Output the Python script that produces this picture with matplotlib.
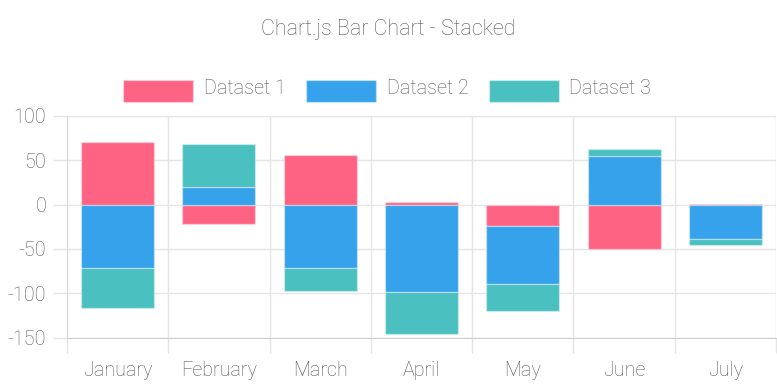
import numpy as np
import matplotlib
matplotlib.use("Agg")
import matplotlib.pyplot as plt
from matplotlib.patches import Rectangle

# Chart data
months   = ["January", "February", "March", "April", "May", "June", "July"]
dataset1 = [70, -22, 56, 3, -24, -50, 1]
dataset2 = [-72, 20, -72, -99, -66, 55, -39]
dataset3 = [-45, 48, -25, -47, -30, 8, -7]
labels   = ["Dataset 1", "Dataset 2", "Dataset 3"]
colors   = ["#ff6384", "#36a2eb", "#4bc0c0"]
y_ticks  = [-150, -100, -50, 0, 50, 100]

plt.rcParams["font.family"] = ["Roboto", "Liberation Sans", "DejaVu Sans"]
plt.rcParams["font.weight"] = "light"
plt.rcParams["axes.unicode_minus"] = False
TXT = "#595959"
GRID = "#e5e5e5"
FS = 14.2

W, H = 777, 388
fig = plt.figure(figsize=(W / 100, H / 100), dpi=100)
ax = fig.add_axes([67 / W, (H - 337.7) / H, (776 - 67) / W, (337.7 - 115.7) / H])

x = np.arange(len(months))
pos_base = np.zeros(len(months))
neg_base = np.zeros(len(months))
for vals, col, lab in zip([dataset1, dataset2, dataset3], colors, labels):
    vals = np.array(vals, dtype=float)
    bottoms = np.where(vals >= 0, pos_base, neg_base)
    ax.bar(x, vals, bottom=bottoms, width=0.72, color=col,
           edgecolor=(1, 1, 1, 0.35), linewidth=1, zorder=3, label=lab)
    pos_base += np.where(vals >= 0, vals, 0)
    neg_base += np.where(vals < 0, vals, 0)

ax.set_xlim(-0.5, len(months) - 0.5)
ax.set_ylim(-150, 100)
ax.set_yticks(y_ticks)
ax.set_xticks(x)
ax.set_xticklabels(months)
ax.set_xticks(np.arange(len(months) + 1) - 0.5, minor=True)

ax.tick_params(axis="y", length=10, width=1, color=GRID, pad=5, labelsize=FS, labelcolor=TXT)
ax.tick_params(axis="x", which="major", length=0, pad=17, labelsize=FS, labelcolor=TXT)
ax.tick_params(axis="x", which="minor", length=10.5, width=1, color=GRID)
ax.grid(axis="y", which="major", color=GRID, lw=1, zorder=0)
ax.grid(axis="x", which="minor", color=GRID, lw=1, zorder=0)

for s in ["top", "right"]:
    ax.spines[s].set_visible(False)
ax.spines["left"].set_color("#d9d9d9")
ax.spines["bottom"].set_color("#d0d0d0")

fig.text(388 / W, 1 - 30 / H, "Chart.js Bar Chart - Stacked", ha="center", va="center",
         fontsize=15.5, color=TXT)

# manual legend, chart.js style
box_x = [123, 306, 489]
text_x = [204, 387, 569]
for bx, tx, col, lab in zip(box_x, text_x, colors, labels):
    fig.add_artist(Rectangle((bx / W, 1 - 102 / H), 70 / W, 22 / H,
                             transform=fig.transFigure, facecolor=col,
                             edgecolor=(1, 1, 1, 0.35), lw=1))
    fig.text(tx / W, 1 - 89 / H, lab, ha="left", va="center", fontsize=FS, color=TXT)

fig.savefig("out.png", dpi=100)
